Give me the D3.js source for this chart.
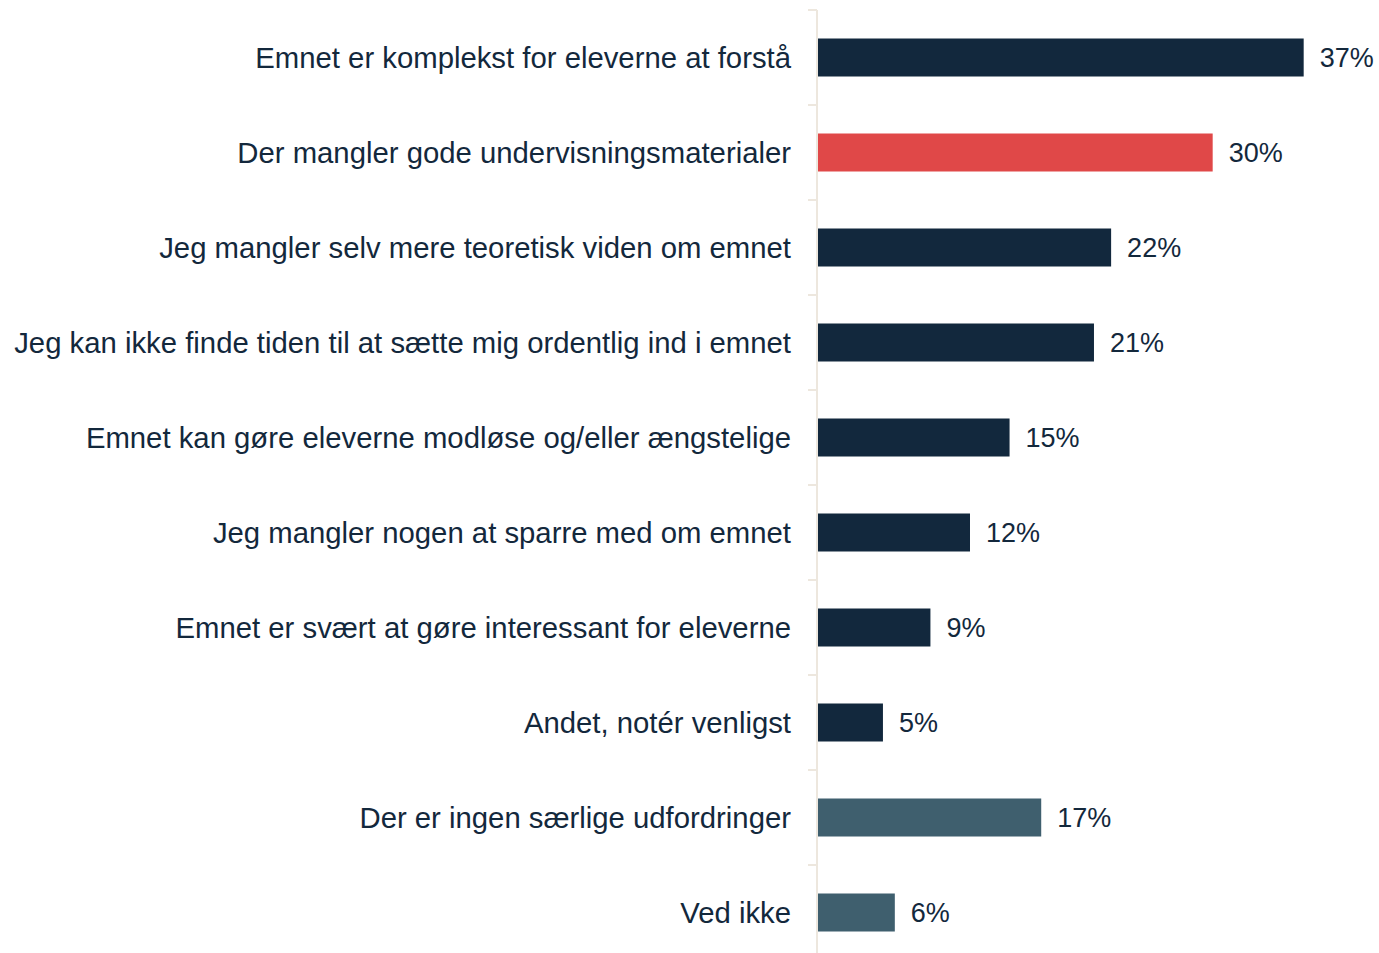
<!DOCTYPE html>
<html>
<head>
<meta charset="utf-8">
<script src="https://cdn.jsdelivr.net/npm/d3@7"></script>
<style>
  body { margin: 0; background: #fff; }
  svg { display: block; font-family: "Liberation Sans", Arial, sans-serif; }
</style>
</head>
<body>
<svg id="chart" width="1379" height="953"></svg>
<script>
const categories = [
  'Emnet er komplekst for eleverne at forstå',
  'Der mangler gode undervisningsmaterialer',
  'Jeg mangler selv mere teoretisk viden om emnet',
  'Jeg kan ikke finde tiden til at sætte mig ordentlig ind i emnet',
  'Emnet kan gøre eleverne modløse og/eller ængstelige',
  'Jeg mangler nogen at sparre med om emnet',
  'Emnet er svært at gøre interessant for eleverne',
  'Andet, notér venligst',
  'Der er ingen særlige udfordringer',
  'Ved ikke'
];
const values = [36.9, 30.0, 22.3, 21.0, 14.6, 11.6, 8.6, 5.0, 17.0, 5.9];
const groups = ['main', 'highlight', 'main', 'main', 'main', 'main', 'main', 'main', 'other', 'other'];

const colors = { main: '#12283d', highlight: '#e04848', other: '#3f5f6e' };
const textColor = '#13283c';

const svg = d3.select('#chart');
const margin = { top: 10, left: 817 };

const x = d3.scaleLinear().domain([0, 37]).range([margin.left, margin.left + 488]);
const y = d3.scaleBand().domain(categories).range([margin.top, margin.top + 950]).paddingInner(0.6).paddingOuter(0.3);

// axis with ticks at band boundaries
const step = y.step();
const bounds = d3.range(categories.length + 1).map(i => margin.top + i * step);
svg.append('line')
  .attr('x1', margin.left).attr('x2', margin.left)
  .attr('y1', margin.top).attr('y2', 953)
  .attr('stroke', '#ede7de').attr('stroke-width', 2);
svg.selectAll('.tick').data(bounds).enter().append('line')
  .attr('class', 'tick')
  .attr('x1', margin.left - 9).attr('x2', margin.left)
  .attr('y1', d => d).attr('y2', d => d)
  .attr('stroke', '#ede7de').attr('stroke-width', 2);

svg.selectAll('.bar').data(categories).enter().append('rect')
  .attr('class', 'bar')
  .attr('x', x(0) + 1)
  .attr('y', d => y(d))
  .attr('width', (d, i) => x(values[i]) - x(0) - 1)
  .attr('height', y.bandwidth())
  .attr('fill', (d, i) => colors[groups[i]]);

svg.selectAll('.cat').data(categories).enter().append('text')
  .attr('class', 'cat')
  .attr('x', margin.left - 26)
  .attr('y', d => y(d) + y.bandwidth() / 2)
  .attr('dy', '0.35em')
  .attr('text-anchor', 'end')
  .attr('font-size', 29.3)
  .attr('fill', textColor)
  .text(d => d);

svg.selectAll('.val').data(categories).enter().append('text')
  .attr('class', 'val')
  .attr('x', (d, i) => x(values[i]) + 16)
  .attr('y', d => y(d) + y.bandwidth() / 2)
  .attr('dy', '0.35em')
  .attr('font-size', 27)
  .attr('fill', textColor)
  .text((d, i) => Math.round(values[i]) + '%');
</script>
</body>
</html>
